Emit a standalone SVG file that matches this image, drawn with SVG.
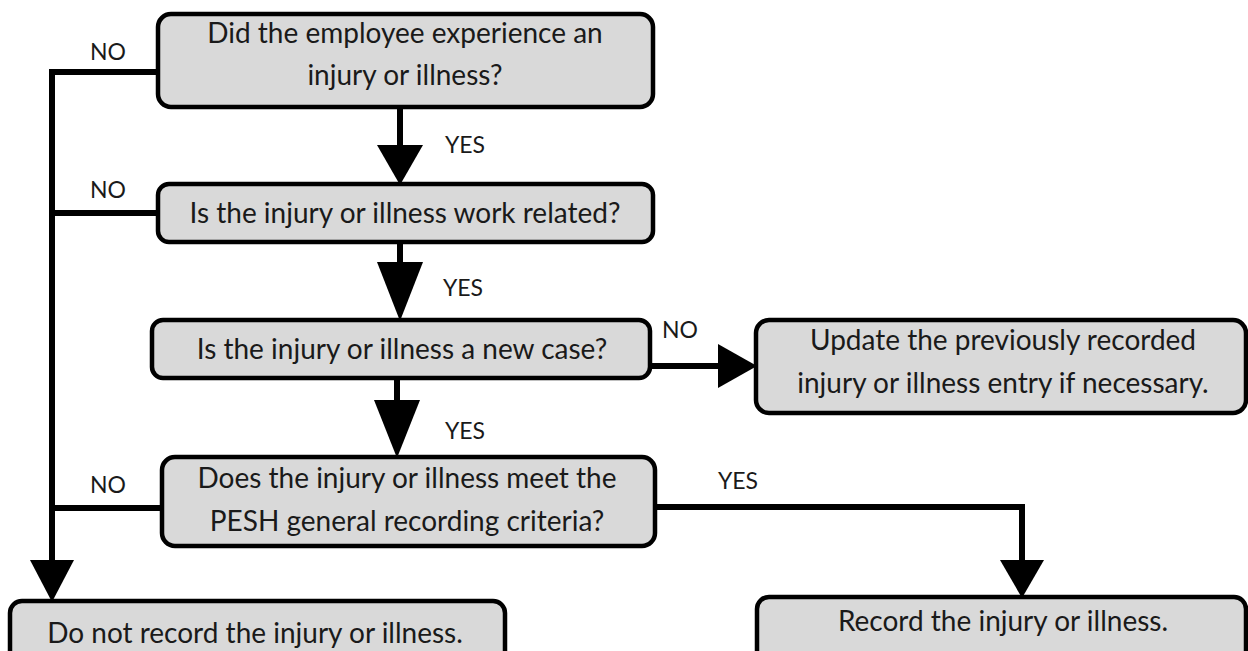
<svg xmlns="http://www.w3.org/2000/svg" width="1248" height="651" viewBox="0 0 1248 651">
<defs>
<style>
.box{fill:#d9d9d9;stroke:#000;stroke-width:4.5}
.t{font-family:Lato,"Liberation Sans",sans-serif;font-size:28px;fill:#1a1a1a;text-anchor:middle}
.l{font-family:Lato,"Liberation Sans",sans-serif;font-size:23px;fill:#1a1a1a;text-anchor:middle}
.c{fill:none;stroke:#000;stroke-width:6}
.h{fill:#000;stroke:none}
</style>
</defs>
<rect width="1248" height="651" fill="#fff"/>
<g id="connectors">
<path class="c" d="M158,72 H52 V565"/>
<path class="c" d="M158,213 H52"/>
<path class="c" d="M162,508 H52"/>
<polygon class="h" points="30,560 74,560 52,602"/>
<path class="c" d="M400,107 V150"/>
<polygon class="h" points="377,145 423,145 400,185"/>
<path class="c" d="M400,242 V267"/>
<polygon class="h" points="377,262 423,262 400,321"/>
<path class="c" d="M397,378 V405"/>
<polygon class="h" points="374,400 420,400 397,458"/>
<path class="c" d="M650,366 H722"/>
<polygon class="h" points="718,344 718,388 757,366"/>
<path class="c" d="M655,507 H1022 V565"/>
<polygon class="h" points="1000,560 1044,560 1022,598"/>
<text class="l" x="108" y="60">NO</text>
<text class="l" x="108" y="198">NO</text>
<text class="l" x="108" y="493">NO</text>
<text class="l" x="465" y="153">YES</text>
<text class="l" x="463" y="296">YES</text>
<text class="l" x="465" y="439">YES</text>
<text class="l" x="680" y="338">NO</text>
<text class="l" x="738" y="489">YES</text>
</g>
<g id="n1">
<rect class="box" x="158" y="14" width="495" height="93" rx="13"/>
<text class="t" x="405" y="43">Did the employee experience an</text>
<text class="t" x="405" y="85">injury or illness?</text>
</g>
<g id="n2">
<rect class="box" x="158" y="184" width="495" height="58" rx="11"/>
<text class="t" x="405" y="223">Is the injury or illness work related?</text>
</g>
<g id="n3">
<rect class="box" x="152" y="320" width="498" height="58" rx="11"/>
<text class="t" x="402" y="359">Is the injury or illness a new case?</text>
</g>
<g id="n4">
<rect class="box" x="162" y="457" width="493" height="89" rx="13"/>
<text class="t" x="407" y="488">Does the injury or illness meet the</text>
<text class="t" x="407" y="531">PESH general recording criteria?</text>
</g>
<g id="n5">
<rect class="box" x="756" y="320" width="490" height="93" rx="13"/>
<text class="t" x="1003" y="350">Update the previously recorded</text>
<text class="t" x="1003" y="393">injury or illness entry if necessary.</text>
</g>
<g id="n6">
<rect class="box" x="10" y="601" width="495" height="70" rx="12"/>
<text class="t" x="255" y="643">Do not record the injury or illness.</text>
</g>
<g id="n7">
<rect class="box" x="757" y="597" width="489" height="70" rx="12"/>
<text class="t" x="1003" y="631">Record the injury or illness.</text>
</g>
</svg>
